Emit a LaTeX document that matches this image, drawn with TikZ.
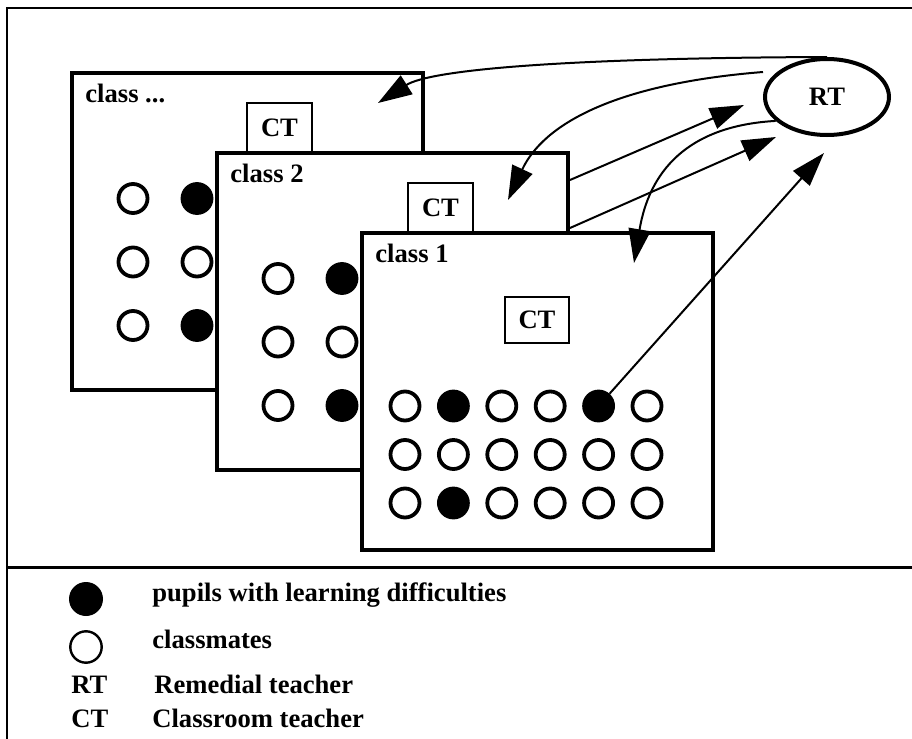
\documentclass[tikz,border=0pt]{standalone}
\usepackage{fontspec}
\setmainfont{Liberation Serif}
\usetikzlibrary{arrows.meta,positioning,calc,shapes.geometric}
\tikzset{
  every node/.style={font=\fontsize{13.3}{16}\selectfont\bfseries},
  frame/.style={line width=1pt},
  clsbox/.style={draw,line width=2pt,fill=white,inner sep=0pt,
    minimum width=175.5pt,minimum height=158.5pt},
  ctbox/.style={draw,line width=1pt,fill=white,inner sep=0pt,
    minimum width=32.5pt,minimum height=25pt},
  clslab/.style={anchor=base west,inner sep=0pt},
  mate/.style={circle,draw,line width=1.9pt,fill=white,inner sep=0pt,minimum size=14.5pt},
  weak/.style={mate,fill=black},
  rtnode/.style={ellipse,draw,line width=2pt,inner sep=0pt,
    minimum width=62pt,minimum height=38pt},
  link/.style={-{Triangle[length=17pt,width=11pt]},line width=1pt},
  keylab/.style={anchor=base west,inner sep=0pt},
}
\begin{document}
\begin{tikzpicture}[x=0.5pt,y=-0.5pt]
  \useasboundingbox (0,0) rectangle (912,739);
  \draw[frame] (912,8) -- (7,8) -- (7,739);
  \draw[line width=1.5pt] (7,567) -- (912,567);

  % back class
  \node[clsbox] (cls3) at (247.5,231.5) {};
  \node[clslab] (lab3) at ($(cls3.north west)+(15,31)$) {class ...};
  \foreach \r/\row in {1/{mate,weak},2/{mate,mate},3/{mate,weak}}
    \foreach \s [count=\c] in \row
      \node[\s] (q-\r-\c) at ($(cls3.north west)+(-1+64*\c,64+63.5*\r)$) {};
  \node[ctbox] (ct3) at (279.5,128) {CT};

  % class 2
  \node[clsbox] (cls2) at (392.5,311.5) {};
  \node[clslab] (lab2) at ($(cls2.north west)+(15,31)$) {class 2};
  \foreach \r/\row in {1/{mate,weak},2/{mate,mate},3/{mate,weak}}
    \foreach \s [count=\c] in \row
      \node[\s] (s-\r-\c) at ($(cls2.north west)+(-1+64*\c,64+63.5*\r)$) {};
  \node[ctbox] (ct2) at (440.5,208) {CT};

  % class 1
  \node[clsbox] (cls1) at (537.5,391.5) {};
  \node[clslab] (lab1) at ($(cls1.north west)+(15,31)$) {class 1};
  \foreach \r/\row in {1/{mate,weak,mate,mate,weak,mate},
                       2/{mate,mate,mate,mate,mate,mate},
                       3/{mate,weak,mate,mate,mate,mate}}
    \foreach \s [count=\c] in \row
      \node[\s] (p-\r-\c) at ($(cls1.north west)+(-3.4+48.4*\c,126.5+48.5*\r)$) {};
  \node[ctbox,minimum width=32pt,minimum height=23pt] (ct1) at (537,320) {CT};

  % remedial teacher
  \node[rtnode] (RT) at (827,97) {RT};
  \coordinate (tip1) at (378,103);
  \coordinate (tip2) at (508,200);
  \coordinate (tip3) at (744,105);
  \coordinate (tip4) at (776,137);
  \coordinate (tip5) at (634,263);
  \coordinate (tip6) at (824,153);
  \draw[link] (RT.north) .. controls +(-267,1) and +(52,-33) .. (tip1);
  \draw[link] ($(RT.west)+(0,-25)$) .. controls +(-150,12) and +(35,-75) .. (tip2);
  \draw[link] ($(cls2.north east)+(0,29)$) -- (tip3);
  \draw[link] ($(cls2.north east)+(0,77)$) -- (tip4);
  \draw[link] (RT.205) .. controls +(-90,5) and +(15,-90) .. (tip5);
  \draw[link] (p-1-5) -- (tip6);

  % legend
  \node[circle,fill=black,inner sep=0pt,minimum size=17pt] (kw) at (86,599) {};
  \node[circle,draw,line width=1.2pt,inner sep=0pt,minimum size=15.7pt] (km) at (86,647) {};
  \node[keylab] (kwt) at (152,601) {pupils with learning difficulties};
  \node[keylab] (kmt) at (152,648) {classmates};
  \node[keylab] (krt) at (71,693) {RT};
  \node[keylab] (krtt) at (154,693) {Remedial teacher};
  \node[keylab] (kct) at (71,727) {CT};
  \node[keylab] (kctt) at (152,727) {Classroom teacher};
\end{tikzpicture}
\end{document}
